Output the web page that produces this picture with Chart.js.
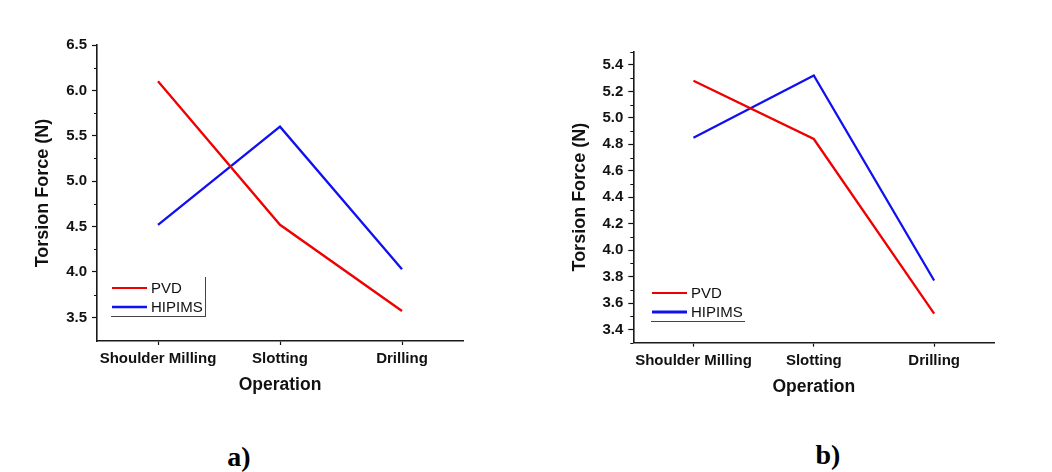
<!DOCTYPE html>
<html>
<head>
<meta charset="utf-8">
<script src="https://cdn.jsdelivr.net/npm/chart.js@4/dist/chart.umd.min.js"></script>
<style>
  html, body { margin: 0; padding: 0; background: #ffffff; }
  body { width: 1052px; height: 472px; position: relative; overflow: hidden; }
  .panel { position: absolute; top: 0; width: 526px; height: 420px; }
  .panel canvas { width: 526px !important; height: 420px !important; }
  .tag { position: absolute; font-family: "Liberation Serif", "DejaVu Serif", serif;
         font-weight: bold; font-size: 28px; line-height: 28px; color: #000;
         transform: translate(-50%, -50%); }
</style>
</head>
<body>
<div class="panel" style="left:0"><canvas id="chartA" width="526" height="420"></canvas></div>
<div class="panel" style="left:526px"><canvas id="chartB" width="526" height="420"></canvas></div>
<div class="tag" style="left:239px; top:457px">a)</div>
<div class="tag" style="left:828px; top:455px">b)</div>
<script>
// Operations on the category axis
const operations = ['Shoulder Milling', 'Slotting', 'Drilling'];

// Panel a) torsion force (N)
const pvdA = [6.10, 4.52, 3.57];
const hipimsA = [4.52, 5.60, 4.03];
// Panel b) torsion force (N)
const pvdB = [5.28, 4.84, 3.52];
const hipimsB = [4.85, 5.32, 3.77];

// Value-axis ticks
const majorTicksA = [3.5, 4.0, 4.5, 5.0, 5.5, 6.0, 6.5];
const minorTicksA = [3.75, 4.25, 4.75, 5.25, 5.75, 6.25];
const majorTicksB = [3.4, 3.6, 3.8, 4.0, 4.2, 4.4, 4.6, 4.8, 5.0, 5.2, 5.4];
const minorTicksB = [3.3, 3.5, 3.7, 3.9, 4.1, 4.3, 4.5, 4.7, 4.9, 5.1, 5.3, 5.5];

const seriesNames = ['PVD', 'HIPIMS'];
const seriesColors = ['#f00000', '#1010f0'];

const SANS = '"Liberation Sans", Arial, sans-serif';
const INK = '#111111';

// Short minor tick marks on the value axis
const minorTickPlugin = {
  id: 'minorTicks',
  afterDraw(chart, args, opts) {
    const y = chart.scales.y;
    const ctx = chart.ctx;
    ctx.save();
    ctx.strokeStyle = INK;
    ctx.lineWidth = 1.2;
    ctx.beginPath();
    for (const v of opts.values || []) {
      const py = Math.round(y.getPixelForValue(v)) + 0.5;
      ctx.moveTo(y.right, py);
      ctx.lineTo(y.right - 3, py);
    }
    ctx.stroke();
    ctx.restore();
  }
};

// Legend drawn inside the plot area, with a partial frame
const insetLegendPlugin = {
  id: 'insetLegend',
  afterDraw(chart, args, o) {
    const ctx = chart.ctx;
    ctx.save();
    chart.data.datasets.forEach((ds, i) => {
      const yy = o.rows[i];
      ctx.strokeStyle = ds.borderColor;
      ctx.lineWidth = o.lineWidths[i];
      ctx.beginPath();
      ctx.moveTo(o.x1, yy);
      ctx.lineTo(o.x2, yy);
      ctx.stroke();
      ctx.fillStyle = INK;
      ctx.font = '15px ' + SANS;
      ctx.textBaseline = 'middle';
      ctx.textAlign = 'left';
      ctx.fillText(ds.label, o.textX, yy + 1);
    });
    ctx.strokeStyle = '#444444';
    ctx.lineWidth = 1;
    ctx.beginPath();
    ctx.moveTo(o.frameLeft, o.frameBottom + 0.5);
    ctx.lineTo(o.frameRight, o.frameBottom + 0.5);
    if (o.rightEdge) {
      ctx.moveTo(o.frameRight + 0.5, o.frameTop);
      ctx.lineTo(o.frameRight + 0.5, o.frameBottom + 1);
    }
    ctx.stroke();
    ctx.restore();
  }
};

function buildChart(id, pvd, hipims, yMin, yMax, majors, minors, layout, legend) {
  const ctx = document.getElementById(id);
  return new Chart(ctx, {
    type: 'line',
    data: {
      labels: operations,
      datasets: [pvd, hipims].map((vals, i) => ({
        label: seriesNames[i],
        data: vals,
        borderColor: seriesColors[i],
        backgroundColor: seriesColors[i],
        borderWidth: 2.3,
        pointRadius: 0,
        tension: 0,
        fill: false
      }))
    },
    plugins: [minorTickPlugin, insetLegendPlugin],
    options: {
      responsive: false,
      animation: false,
      devicePixelRatio: 1,
      layout: { padding: { top: layout.top, right: layout.right, left: 0, bottom: 0 } },
      plugins: {
        legend: { display: false },
        tooltip: { enabled: false },
        minorTicks: { values: minors },
        insetLegend: legend
      },
      scales: {
        x: {
          type: 'category',
          offset: true,
          afterFit: (s) => { s.height = layout.xHeight; },
          grid: { drawOnChartArea: false, drawTicks: true, tickLength: 4, tickColor: INK, tickWidth: 1.2, offset: false },
          border: { display: true, color: '#1a1a1a', width: 1.6 },
          ticks: { color: INK, padding: 5, maxRotation: 0, autoSkip: false,
                   font: { family: SANS, size: 15, weight: 'bold' } },
          title: { display: true, text: 'Operation', color: INK,
                   padding: { top: 0, bottom: layout.xTitlePad },
                   font: { family: SANS, size: 17.5, weight: 'bold' } }
        },
        y: {
          type: 'linear',
          min: yMin,
          max: yMax,
          afterFit: (s) => { s.width = layout.yWidth; },
          afterBuildTicks: (s) => { s.ticks = majors.map(v => ({ value: v })); },
          grid: { drawOnChartArea: false, drawTicks: true, tickLength: 5, tickColor: INK, tickWidth: 1.2 },
          border: { display: true, color: '#1a1a1a', width: 1.6 },
          ticks: { color: INK, padding: 5,
                   callback: (v) => Number(v).toFixed(1),
                   font: { family: SANS, size: 15, weight: 'bold' } },
          title: { display: true, text: 'Torsion Force (N)', color: INK,
                   padding: { top: layout.yTitlePad, bottom: 0 },
                   font: { family: SANS, size: 18, weight: 'bold' } }
        }
      }
    }
  });
}

buildChart('chartA', pvdA, hipimsA, 3.24, 6.5, majorTicksA, minorTicksA,
  { top: 45, right: 63, yWidth: 97, xHeight: 79, xTitlePad: 24, yTitlePad: 32 },
  { x1: 112, x2: 147, textX: 151, rows: [288, 307], lineWidths: [2.2, 2.4],
    frameLeft: 111, frameRight: 205, frameTop: 277, frameBottom: 316, rightEdge: true });

buildChart('chartB', pvdB, hipimsB, 3.3, 5.5, majorTicksB, minorTicksB,
  { top: 51.7, right: 57.7, yWidth: 107.3, xHeight: 77.3, xTitlePad: 22.8, yTitlePad: 43 },
  { x1: 126, x2: 161, textX: 165, rows: [293, 312], lineWidths: [2.2, 3],
    frameLeft: 125, frameRight: 219, frameTop: 282, frameBottom: 321, rightEdge: false });
</script>
</body>
</html>
